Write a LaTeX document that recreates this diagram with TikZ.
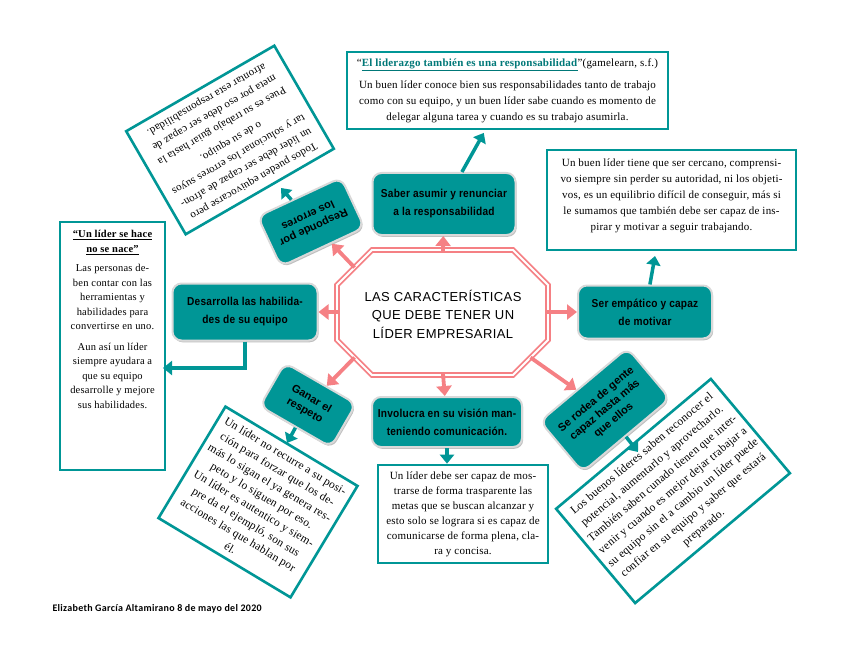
\documentclass[tikz,border=0pt]{standalone}
\usepackage{fontspec}
\setmainfont{Liberation Serif}[LetterSpace=2]
\newfontfamily\nodefont{Liberation Sans}[FakeStretch=0.88,LetterSpace=2]
\newfontfamily\rnodefont{Liberation Sans}
\newfontfamily\octfont{Liberation Sans}[LetterSpace=3]
\newfontfamily\footfont{Carlito}[LetterSpace=3]
\usetikzlibrary{arrows.meta,shadows}
\definecolor{tealc}{RGB}{0,150,150}
\definecolor{tealdark}{RGB}{0,120,120}
\definecolor{pinkc}{RGB}{245,128,132}
\begin{document}
\begin{tikzpicture}[x=1pt,y=-1pt,
 tnode/.style={fill=tealc, draw=black!15, line width=2pt, rounded corners=9pt, align=center, text=black, inner sep=2pt,
   drop shadow={shadow xshift=1.2pt, shadow yshift=-1.8pt, opacity=0.25, fill=black}},
 nfont/.style={font=\nodefont\bfseries\fontsize{11.5}{18}\selectfont},
 rfont/.style={font=\rnodefont\bfseries\fontsize{11}{13.5}\selectfont},
 tbox/.style={draw=tealc, line width=2.6pt, fill=white, inner sep=0pt},
 btext/.style={align=center, font=\fontsize{11}{15}\selectfont},
 parrow/.style={draw=pinkc, line width=3.8pt, -{Triangle[length=10pt,width=15pt]}},
 tarrow/.style={draw=tealc, line width=3.5pt, -{Triangle[length=9pt,width=14pt]}},
 octline/.style={draw=pinkc, double=white, double distance=1.8pt, line width=1.9pt}
]
\useasboundingbox (0,0) rectangle (848,655);

% central octagon
\draw[octline] (372,250) -- (513,250) -- (548,285) -- (548,340) -- (513,375) -- (372,375) -- (337,340) -- (337,285) -- cycle;
\node[align=center, font=\octfont\fontsize{13}{18.5}\selectfont] (oct) at (443,314) {LAS CARACTERÍSTICAS\\QUE DEBE TENER UN\\LÍDER EMPRESARIAL};
\coordinate (oN) at (443,251);
\coordinate (oS) at (443,374);
\coordinate (oW) at (338,312);
\coordinate (oE) at (547,312);
\coordinate (oNW) at (354.5,267.5);
\coordinate (oSW) at (354.5,357.5);
\coordinate (oSE) at (530.5,357.5);

% teal nodes
\node[tnode, nfont, minimum width=143pt, minimum height=62pt] (saber) at (444,204) {Saber asumir y renunciar\\a la responsabilidad};
\node[tnode, nfont, minimum width=145pt, minimum height=57pt] (desa) at (245,312) {Desarrolla las habilida-\\des de su equipo};
\node[tnode, nfont, minimum width=134pt, minimum height=53pt] (empa) at (645,312) {Ser empático y capaz\\de motivar};
\node[tnode, nfont, minimum width=150pt, minimum height=50pt] (invo) at (447,422) {Involucra en su visión man-\\teniendo comunicación.};
\node[tnode, rfont, rotate=205, minimum width=92pt, minimum height=55pt] (resp) at (311,222) {Responde por\\los errores};
\node[tnode, rfont, rotate=-30, minimum width=82pt, minimum height=50pt] (ganar) at (308,405) {Ganar el\\respeto};
\node[tnode, rfont, rotate=40, minimum width=114pt, minimum height=66pt] (rodea) at (605,410) {Se rodea de gente\\capaz hasta más\\que ellos};

% boxes
\node[tbox, btext, minimum width=321pt, minimum height=77pt, font=\fontsize{11}{16}\selectfont] (topbox) at (507.5,90.5)
 {“\textcolor{tealdark}{\underline{\textbf{El liderazgo también es una responsabilidad}}}”(gamelearn, s.f.)\\[6pt]
  Un buen líder conoce bien sus responsabilidades tanto de trabajo\\
  como con su equipo, y un buen líder sabe cuando es momento de\\
  delegar alguna tarea y cuando es su trabajo asumirla.};

\node[tbox, minimum width=249pt, minimum height=100pt] (rbox) at (671.5,200) {};
\node[btext, anchor=north, font=\fontsize{11}{16}\selectfont] (rtext) at (671.5,155)
 {Un buen líder tiene que ser cercano, comprensi-\\
  vo siempre sin perder su autoridad, ni los objeti-\\
  vos, es un equilibrio difícil de conseguir, más si\\
  le sumamos que también debe ser capaz de ins-\\
  pirar y motivar a seguir trabajando.};

\node[tbox, minimum width=105pt, minimum height=248pt] (lbox) at (112.5,346) {};
\node[btext, anchor=north, font=\fontsize{10.5}{14.5}\selectfont] (ltext) at (112.5,227)
 {\textbf{\underline{“Un líder se hace}}\\\textbf{\underline{no se nace”}}\\[5pt]
  Las personas de-\\ben contar con las\\herramientas y\\habilidades para\\convertirse en uno.\\[6pt]
  Aun así un líder\\siempre ayudara a\\que su equipo\\desarrolle y mejore\\sus habilidades.};

\node[tbox, btext, minimum width=170pt, minimum height=98pt] (bmbox) at (463,514)
 {Un líder debe ser capaz de mos-\\trarse de forma trasparente las\\metas que se buscan alcanzar y\\esto solo se lograra si es capaz de\\comunicarse de forma plena, cla-\\ra y concisa.};

\node[tbox, btext, rotate=210, minimum width=171pt, minimum height=119pt, font=\fontsize{11}{15.2}\selectfont] (tlbox) at (230,140)
 {Todos pueden equivocarse pero\\un líder debe ser capaz de afron-\\tar y solucionar los errores suyos\\o de su equipo.\\[3pt]
  Pues es su trabajo guiar hasta la\\meta por eso debe ser capaz de\\afrontar esta responsabilidad.};

\node[tbox, btext, rotate=-31, minimum width=154pt, minimum height=130pt, font=\fontsize{11.5}{15.3}\selectfont] (blbox) at (258,502)
 {Un líder no recurre a su posi-\\ción para forzar que los de-\\más lo sigan el ya genera res-\\peto y lo siguen por eso.\\
  Un líder es autentico y siem-\\pre da el ejempló, son sus\\acciones las que hablan por\\él.};

\node[tbox, btext, rotate=40, minimum width=202pt, minimum height=123pt, font=\fontsize{11.5}{16}\selectfont] (brbox) at (673,491)
 {Los buenos líderes saben reconocer el\\potencial, aumentarlo y aprovecharlo.\\También saben cunado tienen que inter-\\venir y cuando es mejor dejar trabajar a\\su equipo sin el a cambio un líder puede\\confiar en su equipo y saber que estará\\preparado.};

% pink arrows
\draw[parrow] (oN) -- (saber);
\draw[parrow] (oW) -- (desa);
\draw[parrow] (oE) -- (empa);
\draw[parrow] (oS) -- (invo);
\draw[parrow] (oNW) -- (resp);
\draw[parrow] (oSW) -- (ganar);
\draw[parrow] (oSE) -- (rodea);

% teal arrows
\coordinate (lbtip) at (163,368);
\coordinate (rbtip) at (655,256);
\coordinate (resptip) at (281,188);
\coordinate (ganartip) at (287,443);
\coordinate (rodeatip) at (638,452);
\draw[tarrow, shorten >=3pt] (saber) -- (topbox);
\draw[tarrow] (desa.south) |- (lbtip);
\draw[tarrow] (empa) -- (rbtip);
\draw[tarrow] (invo.south) -- (invo.south |- bmbox.north);
\draw[tarrow] (resp) -- (resptip);
\draw[tarrow] (ganar) -- (ganartip);
\draw[tarrow] (rodea) -- (rodeatip);

% footer
\node[anchor=west, font=\footfont\bfseries\fontsize{10}{12}\selectfont] (foot) at (49,609) {Elizabeth García Altamirano 8 de mayo del 2020};
\end{tikzpicture}
\end{document}
